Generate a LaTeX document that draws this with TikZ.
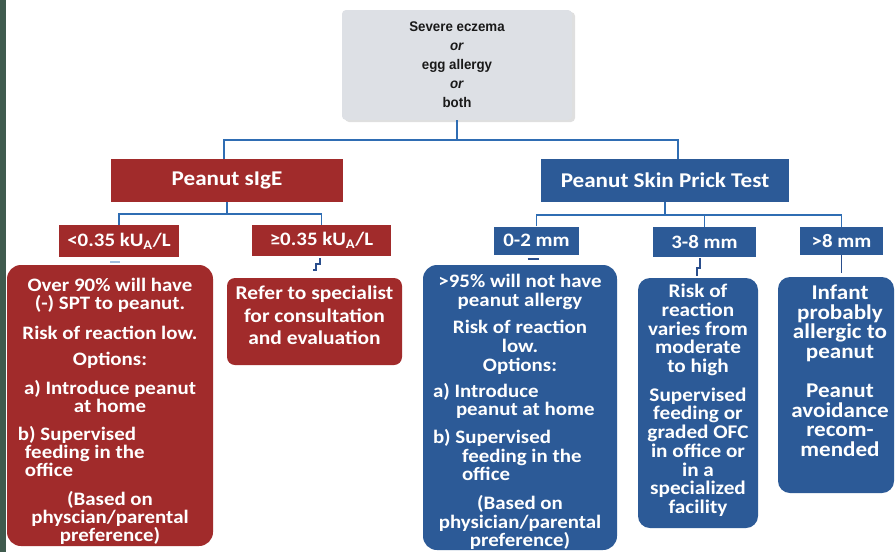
\documentclass[tikz,border=0pt]{standalone}
\usepackage{fontspec}
\setmainfont{Carlito}[FakeStretch=1.1]
\newfontfamily\condfont[FakeStretch=0.95]{Liberation Sans}
\usetikzlibrary{calc,shadows}
\definecolor{dred}{HTML}{A12B2B}
\definecolor{dblue}{HTML}{2C5A97}
\definecolor{lnblue}{HTML}{2F6DB3}
\definecolor{stubblue}{HTML}{2A4E8C}
\definecolor{topgray}{HTML}{DDE0E5}
\definecolor{stripgreen}{HTML}{3F5B4E}
\begin{document}
\begin{tikzpicture}[x=1pt,y=-1pt,
  hdr/.style={rectangle, text=white, font=\fontsize{21}{24}\selectfont\bfseries, inner sep=0pt},
  lab/.style={rectangle, text=white, font=\fontsize{19}{22}\selectfont\bfseries, inner sep=0pt},
  boxnode/.style={rectangle, inner sep=0pt},
  txt/.style={anchor=north, text=white, align=center, inner sep=0pt},
  conn/.style={draw=lnblue, line width=1.6pt},
  stub/.style={draw=stubblue, line width=1.8pt}]
\fill[white] (0,0) rectangle (895,552);
\fill[stripgreen] (0,0) rectangle (6,552);
\useasboundingbox (0,0) rectangle (895,552);

% top box
\node[boxnode, fill=topgray, rounded corners=4pt, minimum width=230pt, minimum height=110pt,
  drop shadow={opacity=0.25, shadow xshift=3pt, shadow yshift=-2pt},
  align=center, text=black!90, font=\condfont\bfseries\fontsize{14}{19}\selectfont] (top) at (457,65)
  {Severe eczema\\ \textit{or}\\ egg allergy\\ \textit{or}\\ both};

% headers
\node[hdr, fill=dred, minimum width=232pt, minimum height=43pt] (sige) at (227,180.5) {Peanut sIgE};
\node[hdr, fill=dblue, minimum width=248pt, minimum height=43pt] (spt) at (665,180.5) {Peanut Skin Prick Test};

% labels
\node[lab, fill=dred, minimum width=120pt, minimum height=32pt] (lt) at (119,241) {<0.35 kU\textsubscript{A}/L};
\node[lab, fill=dred, minimum width=139pt, minimum height=31pt] (ge) at (321.5,240.5) {≥0.35 kU\textsubscript{A}/L};
\node[lab, fill=dblue, minimum width=85pt, minimum height=28pt] (mm02) at (536.5,240.5) {0-2 mm};
\node[lab, fill=dblue, minimum width=103pt, minimum height=30pt] (mm38) at (704.5,242) {3-8 mm};
\node[lab, fill=dblue, minimum width=83pt, minimum height=28pt] (mm8) at (841.5,241) {>8 mm};

% big boxes
\node[boxnode, fill=dred, rounded corners=14pt, minimum width=206pt, minimum height=281pt] (redbig) at (110,405.5) {};
\node[boxnode, fill=dred, rounded corners=8pt, minimum width=175pt, minimum height=87pt] (refer) at (314.5,321.5) {};
\node[boxnode, fill=dblue, rounded corners=14pt, minimum width=194pt, minimum height=285pt] (bluebig) at (520,407.5) {};
\node[boxnode, fill=dblue, rounded corners=12pt, minimum width=120pt, minimum height=250pt] (mid) at (698,403) {};
\node[boxnode, fill=dblue, rounded corners=12pt, minimum width=116pt, minimum height=216pt] (right) at (836,385) {};

% texts
\node[txt, font=\fontsize{19}{18}\selectfont\bfseries] (redtxt) at (110,278) {Over 90\% will have\\
(-) SPT to peanut.\\[12pt]
Risk of reaction low.\\[8pt]
Options:\\[11pt]
a) Introduce peanut\\
at home\\[10pt]
\makebox[184pt][l]{b) Supervised}\\
\makebox[184pt][l]{\hspace{7pt}feeding in the}\\
\makebox[184pt][l]{\hspace{7pt}office}\\[11pt]
(Based on\\
physcian/parental\\
preference)};

\node[txt, font=\fontsize{19.5}{22.5}\selectfont\bfseries] (refertxt) at (314.5,286) {Refer to specialist\\ for consultation\\ and evaluation};

\node[txt, font=\fontsize{19}{18.7}\selectfont\bfseries] (bluetxt) at (520,274) {>95\% will not have\\
peanut allergy\\[9pt]
Risk of reaction\\
low.\\
Options:\\[7pt]
\makebox[174pt][l]{a) Introduce}\\
\makebox[174pt][l]{\hspace{23pt}peanut at home}\\[9pt]
\makebox[174pt][l]{b) Supervised}\\
\makebox[174pt][l]{\hspace{29pt}feeding in the}\\
\makebox[174pt][l]{\hspace{29pt}office}\\[10pt]
(Based on\\
physician/parental\\
preference)};

\node[txt, font=\fontsize{19.3}{18.7}\selectfont\bfseries] (midtxt) at (698,284) {Risk of\\ reaction\\ varies from\\ moderate\\ to high\\[10pt]
Supervised\\ feeding or\\ graded OFC\\ in office or\\ in a\\ specialized\\ facility};

\node[txt, font=\fontsize{21}{19.5}\selectfont\bfseries] (righttxt) at (840,285) {Infant\\ probably\\ allergic to\\ peanut\\[20pt]
Peanut\\ avoidance\\ recom-\\ mended};

% connectors
\coordinate (j1) at (457,140);
\draw[conn] (top.south) -- (j1);
\draw[conn] ($(sige.north)+(-3,0)$) |- (j1) -| ($(spt.north)+(13,0)$);
\coordinate (j2) at ($(sige.south)+(0,12)$);
\draw[conn] (sige.south) -- (j2);
\draw[conn] (lt.north) |- (j2) -| (ge.north);
\coordinate (j3) at ($(spt.south)+(0,13)$);
\draw[conn] (spt.south) -- (j3);
\draw[conn] (mm02.north) |- (j3) -| (mm8.north);
\draw[conn] (mm38.north) -- (mm38.north |- j3);

% stubs
\draw[stub, draw=lnblue!45] ($(lt.south)+(-9,5)$) -- ++(10,0);
\draw[stub] ($(ge.south)+(-1.5,2)$) -- ++(0,6) -- ++(-4,0) -- ++(0,6) -- ++(-3,0);
\draw[stub] ($(mm02.south)+(-9,4)$) -- ++(11,0);
\draw[stub] ($(mm38.south)+(-4.5,1)$) -- ++(0,10) -- ++(-3,0) -- ++(0,8);
\draw[stub] (mm8.south) -- ++(0,18);
\end{tikzpicture}
\end{document}
